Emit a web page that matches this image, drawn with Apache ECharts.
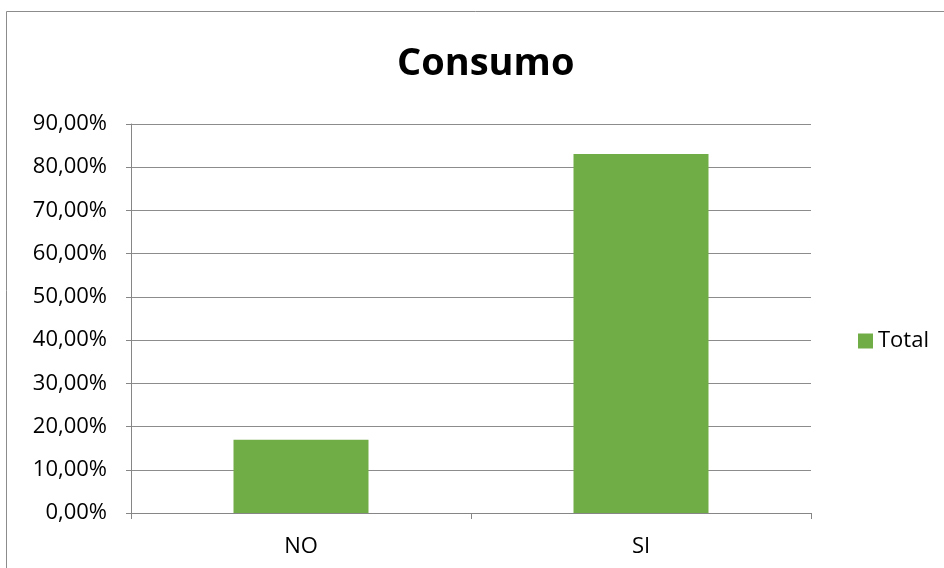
<!DOCTYPE html>
<html>
<head>
<meta charset="utf-8">
<title>Consumo</title>
<script src="https://cdn.jsdelivr.net/npm/echarts@6/dist/echarts.min.js"></script>
<style>
  html, body { margin: 0; padding: 0; background: #fff; }
  #chart { width: 944px; height: 568px; }
</style>
</head>
<body>
<div id="chart"></div>
<script>
// data (percent)
var categories = ['NO', 'SI'];
var totals = [16.92, 83.08];
var seriesName = 'Total';

var fontFam = '"Open Sans", "Noto Sans", sans-serif';

// 0,00% style labels
function pct(v) {
  return v.toFixed(2).replace('.', ',') + '%';
}

var chart = echarts.init(document.getElementById('chart'));
chart.setOption({
  animation: false,
  backgroundColor: '#fff',
  title: {
    text: 'Consumo',
    left: 392,
    top: 40,
    textStyle: { fontFamily: fontFam, fontSize: 38, fontWeight: 'bold', color: '#000' }
  },
  legend: {
    data: [seriesName],
    orient: 'vertical',
    left: 853,
    top: 325,
    itemWidth: 15,
    itemHeight: 15,
    icon: 'rect',
    textStyle: { fontFamily: fontFam, fontSize: 22, color: '#000', padding: [0, 0, 0, 0] }
  },
  grid: { left: 131, right: 133, top: 124, bottom: 55 },
  xAxis: {
    type: 'category',
    data: categories,
    axisLine: { lineStyle: { color: '#868686', width: 1 } },
    axisTick: { show: true, length: 6, lineStyle: { color: '#868686' } },
    axisLabel: { fontFamily: fontFam, fontSize: 22, color: '#000', margin: 23 }
  },
  yAxis: {
    type: 'value',
    min: 0,
    max: 90,
    interval: 10,
    axisLine: { show: true, lineStyle: { color: '#868686', width: 1 } },
    axisTick: { show: true, length: 5, lineStyle: { color: '#868686' } },
    splitLine: { lineStyle: { color: '#8c8c8c', width: 1 } },
    axisLabel: { fontFamily: fontFam, fontSize: 22, color: '#000', margin: 24, formatter: pct }
  },
  series: [{
    name: seriesName,
    type: 'bar',
    data: totals,
    barWidth: 135,
    itemStyle: { color: '#70ad47' }
  }],
  graphic: [{
    type: 'rect',
    shape: { x: 6.5, y: 11.5, width: 960, height: 600 },
    style: { fill: 'none', stroke: '#8c8c8c', lineWidth: 1 },
    silent: true
  }]
});
</script>
</body>
</html>
